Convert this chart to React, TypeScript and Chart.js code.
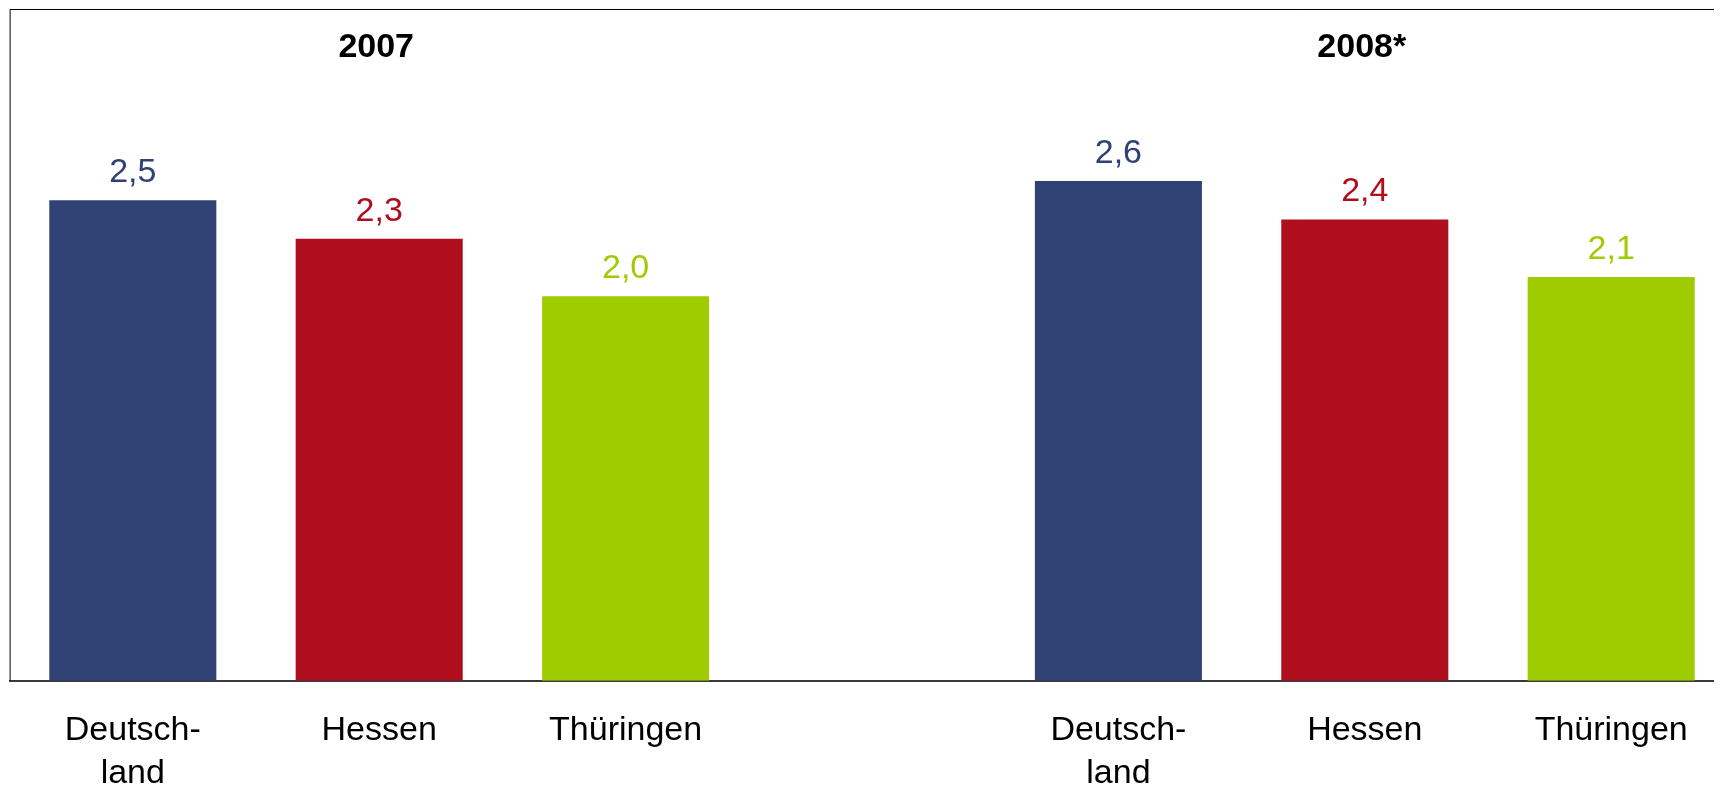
import React, { useEffect, useRef } from "react";
import { Chart, registerables } from "chart.js";

Chart.register(...registerables);

const categories: (string | string[])[] = [
  ["Deutsch-", "land"],
  "Hessen",
  "Thüringen",
  "",
  ["Deutsch-", "land"],
  "Hessen",
  "Thüringen",
];
const values: (number | null)[] = [2.5, 2.3, 2.0, null, 2.6, 2.4, 2.1];
const barColors = ["#304174", "#AE0E1E", "#9ECC00", "rgba(0,0,0,0)", "#304174", "#AE0E1E", "#9ECC00"];
const groupTitles = ["2007", "2008*"];
const groupTitleCategory = [1, 5];
const yMin = 0;
const yMax = 3.5;

const FONT = '"Liberation Sans", Arial, Helvetica, sans-serif';

const framePlugin = {
  id: "framePlugin",
  afterDraw(chart: any) {
    const { ctx, chartArea } = chart;
    ctx.save();
    ctx.strokeStyle = "#000000";
    ctx.lineWidth = 1;
    ctx.beginPath();
    ctx.moveTo(chartArea.left + 0.5, chartArea.bottom);
    ctx.lineTo(chartArea.left + 0.5, chartArea.top + 1.5);
    ctx.lineTo(chartArea.right - 0.5, chartArea.top + 1.5);
    ctx.lineTo(chartArea.right - 0.5, chartArea.bottom);
    ctx.stroke();
    ctx.restore();
  },
};

const valueLabelPlugin = {
  id: "valueLabelPlugin",
  afterDatasetsDraw(chart: any) {
    const { ctx } = chart;
    const meta = chart.getDatasetMeta(0);
    ctx.save();
    ctx.font = `34px ${FONT}`;
    ctx.textAlign = "center";
    ctx.textBaseline = "alphabetic";
    meta.data.forEach((bar: any, i: number) => {
      const v = values[i];
      if (v === null || v === undefined) return;
      ctx.fillStyle = barColors[i];
      ctx.fillText(v.toFixed(1).replace(".", ","), bar.x, bar.y - 18);
    });
    ctx.restore();
  },
};

const groupTitlePlugin = {
  id: "groupTitlePlugin",
  afterDraw(chart: any) {
    const { ctx, chartArea } = chart;
    const xScale = chart.scales.x;
    ctx.save();
    ctx.font = `bold 34px ${FONT}`;
    ctx.fillStyle = "#000000";
    ctx.textAlign = "center";
    ctx.textBaseline = "alphabetic";
    groupTitles.forEach((t, i) => {
      const x = xScale.getPixelForValue(groupTitleCategory[i]);
      ctx.fillText(t, x - 3, chartArea.top + 48.7);
    });
    ctx.restore();
  },
};

export default function App() {
  const canvasRef = useRef<HTMLCanvasElement | null>(null);

  useEffect(() => {
    const prevHtml = document.documentElement.style.overflow;
    const prevBody = document.body.style.overflow;
    document.documentElement.style.overflow = "hidden";
    document.body.style.overflow = "hidden";

    const canvas = canvasRef.current;
    if (!canvas) return;
    const chart = new Chart(canvas, {
      type: "bar",
      data: {
        labels: categories as any,
        datasets: [
          {
            data: values as any,
            backgroundColor: barColors,
            borderWidth: 0,
            barPercentage: 0.678,
            categoryPercentage: 1,
          },
        ],
      },
      options: {
        responsive: true,
        maintainAspectRatio: false,
        animation: false,
        layout: { padding: { left: 1.6, right: 1.6, top: 0, bottom: 0 } },
        plugins: {
          legend: { display: false },
          tooltip: { enabled: false },
          title: { display: false },
        },
        scales: {
          x: {
            offset: true,
            grid: { display: false, drawTicks: false },
            border: { display: true, color: "#3a3a3a", width: 2 },
            ticks: {
              autoSkip: false,
              maxRotation: 0,
              minRotation: 0,
              padding: 28.3,
              color: "#000000",
              font: { family: FONT, size: 34, lineHeight: 43 / 34 },
            },
            afterFit: (scale: any) => {
              scale.height = 107.3;
            },
          },
          y: {
            display: false,
            min: yMin,
            max: yMax,
          },
        },
      },
      plugins: [framePlugin, valueLabelPlugin, groupTitlePlugin],
    });

    return () => {
      chart.destroy();
      document.documentElement.style.overflow = prevHtml;
      document.body.style.overflow = prevBody;
    };
  }, []);

  return (
    <div style={{ width: 1714, height: 780, overflow: "hidden", position: "relative" }}>
      <div style={{ width: 1728, height: 780, position: "relative" }}>
        <canvas ref={canvasRef} />
      </div>
    </div>
  );
}
